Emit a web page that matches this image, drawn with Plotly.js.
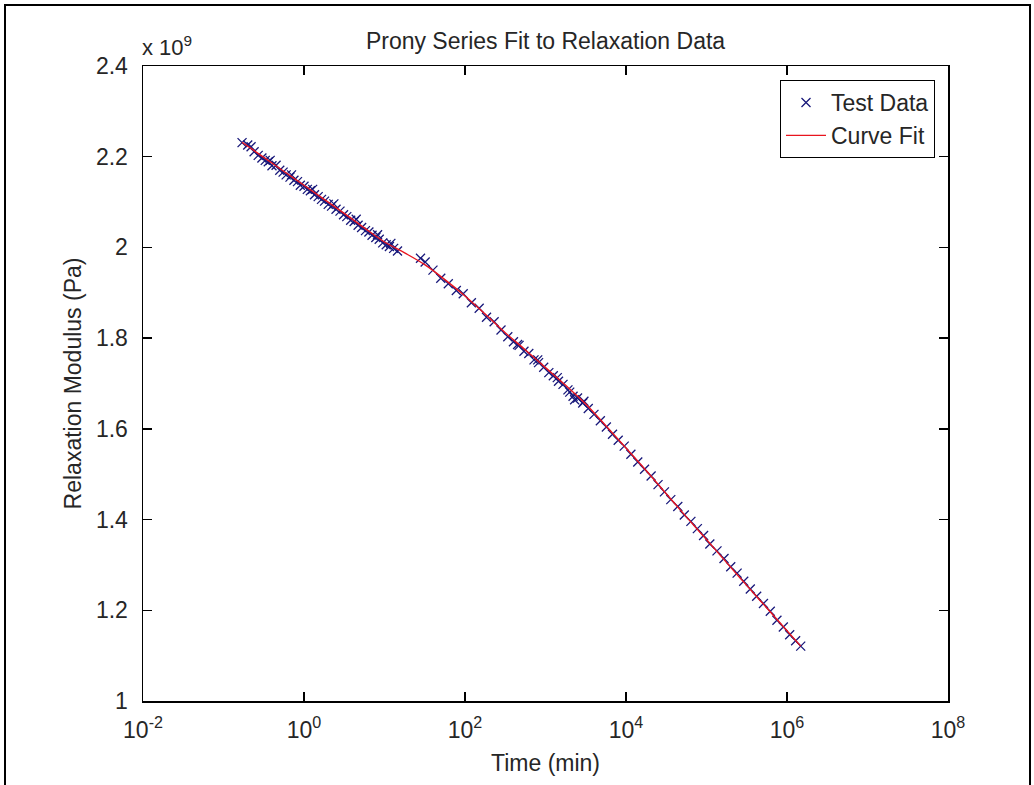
<!DOCTYPE html>
<html>
<head>
<meta charset="utf-8">
<script src="https://cdn.plot.ly/plotly-3.0.1.min.js"></script>
<style>
  html, body { margin: 0; padding: 0; background: #fff; }
  #wrap { position: relative; width: 1034px; height: 785px; overflow: hidden; }
  #chart { width: 1034px; height: 785px; }
  #frame { position: absolute; left: 4px; top: 4px; width: 1023px; height: 800px; border: 2px solid #000; pointer-events: none; }
</style>
</head>
<body>
<div id="wrap"><div id="chart"></div><div id="frame"></div></div>
<script>
// Test data: time (min) and relaxation modulus (x 10^9 Pa)
const testTime = [
  0.17, 0.2, 0.22, 0.24, 0.27, 0.3, 0.33, 0.36, 0.38, 0.4, 0.45, 0.5, 0.55, 0.6, 0.67, 0.7, 0.75, 0.83, 0.9,
  1.0, 1.1, 1.2, 1.28, 1.35, 1.5, 1.65, 1.8, 2.0, 2.2, 2.35, 2.5, 2.8, 3.1, 3.4, 3.8, 4.2, 4.45, 4.7, 5.2,
  5.8, 6.4, 7.0, 7.8, 8.2, 8.6, 9.5, 10.5, 11.5, 12, 13, 14.5,
  28, 32, 40, 50, 62, 78, 95, 120, 150, 185, 230, 280, 340, 400, 450, 470, 540, 620, 720, 800, 820, 950,
  1100, 1250, 1400, 1450, 1650, 1900, 2000, 2200, 2300, 2500, 2900, 3000, 3400, 4000, 4800, 5700, 6800, 8000, 9500,
  11500, 14000, 17000, 20500, 25000, 30000, 36000, 44000, 53000, 64000, 77000, 92000,
  110000, 135000, 165000, 200000, 240000, 290000, 350000, 420000, 510000, 620000, 750000, 900000,
  1080000, 1280000, 1480000
];
const testModulus = [
  2.231, 2.226, 2.222, 2.211, 2.203, 2.197, 2.192, 2.189, 2.192, 2.180, 2.181, 2.170, 2.166, 2.160, 2.155, 2.160, 2.148, 2.145, 2.137,
  2.135, 2.128, 2.125, 2.128, 2.116, 2.112, 2.106, 2.102, 2.095, 2.091, 2.096, 2.084, 2.080, 2.072, 2.068, 2.060, 2.057, 2.062, 2.049, 2.044,
  2.037, 2.034, 2.027, 2.022, 2.028, 2.018, 2.010, 2.006, 2.002, 2.009, 1.998, 1.992,
  1.976, 1.968, 1.950, 1.932, 1.920, 1.905, 1.898, 1.878, 1.866, 1.846, 1.836, 1.818, 1.803, 1.792, 1.786, 1.784, 1.771, 1.766, 1.752, 1.752, 1.746, 1.736,
  1.724, 1.717, 1.713, 1.705, 1.698, 1.686, 1.681, 1.672, 1.664, 1.668, 1.657, 1.661, 1.645, 1.632, 1.618, 1.604, 1.588, 1.575, 1.562,
  1.544, 1.527, 1.511, 1.496, 1.477, 1.461, 1.444, 1.429, 1.410, 1.396, 1.380, 1.365,
  1.346, 1.331, 1.314, 1.296, 1.282, 1.264, 1.247, 1.231, 1.215, 1.198, 1.178, 1.163,
  1.146, 1.133, 1.121
];

// Prony series curve fit
const fitTime = [
  0.17, 0.32, 0.56, 1, 1.78, 3.16, 5.62, 10, 17.8, 31.6, 56.2, 100, 178, 316, 562, 1000, 1780, 3160, 5620,
  10000, 17800, 31600, 56200, 100000, 178000, 316000, 562000, 1000000, 1480000
];
const fitModulus = [
  2.232, 2.198, 2.168, 2.137, 2.106, 2.075, 2.043, 2.012, 1.988, 1.962, 1.929, 1.893, 1.853, 1.812, 1.774, 1.735, 1.696, 1.655, 1.607,
  1.558, 1.508, 1.457, 1.406, 1.356, 1.305, 1.255, 1.205, 1.155, 1.121
];

const xTickVals = [0.01, 1, 100, 10000, 1000000, 100000000];
const xTickText = ['10<sup>-2</sup>', '10<sup>0</sup>', '10<sup>2</sup>', '10<sup>4</sup>', '10<sup>6</sup>', '10<sup>8</sup>'];
const yTickVals = [1, 1.2, 1.4, 1.6, 1.8, 2, 2.2, 2.4];
const yTickText = ['1', '1.2', '1.4', '1.6', '1.8', '2', '2.2', '2.4'];

const FONT = 'Liberation Sans, Arial, sans-serif';
const FS = 23;
const TXT = '#262626';
const W = 1034, H = 785;
const M = { l: 143, r: 86, t: 66, b: 84 };

const traces = [
  {
    x: testTime, y: testModulus, name: 'Test Data', type: 'scatter', mode: 'markers',
    marker: { symbol: 'x-thin-open', size: 9, color: '#18187a', line: { width: 1.3, color: '#18187a' } }
  },
  {
    x: fitTime, y: fitModulus, name: 'Curve Fit', type: 'scatter', mode: 'lines',
    line: { color: '#e8141e', width: 1.4, shape: 'spline' }
  }
];

const axisCommon = {
  showline: true, linecolor: '#000', linewidth: 1.5, mirror: 'ticks',
  ticks: 'inside', ticklen: 9, tickwidth: 1.5, tickcolor: '#000',
  showgrid: false, zeroline: false,
  tickfont: { family: FONT, size: FS, color: TXT }
};

const layout = {
  width: W, height: H,
  margin: M,
  paper_bgcolor: '#fff', plot_bgcolor: '#fff',
  font: { family: FONT, size: FS, color: TXT },
  showlegend: true,
  title: {
    text: 'Prony Series Fit to Relaxation Data',
    font: { family: FONT, size: FS, color: TXT },
    x: 0.5, xref: 'paper', xanchor: 'center',
    y: 1 - 41 / H, yref: 'container', yanchor: 'middle'
  },
  xaxis: Object.assign({}, axisCommon, {
    type: 'log', range: [-2, 8],
    tickmode: 'array', tickvals: xTickVals, ticktext: xTickText,
    ticklabelstandoff: 8,
    title: { text: 'Time (min)', font: { family: FONT, size: FS, color: TXT }, standoff: 13 }
  }),
  yaxis: Object.assign({}, axisCommon, {
    range: [1, 2.4],
    tickmode: 'array', tickvals: yTickVals, ticktext: yTickText,
    ticklabelstandoff: 9,
    title: { text: 'Relaxation Modulus (Pa)', font: { family: FONT, size: FS, color: TXT }, standoff: 8 }
  }),
  legend: {
    x: 1 - 13 / 805, xanchor: 'right', y: 1 - 14 / 635, yanchor: 'top',
    bgcolor: '#fff', bordercolor: '#000', borderwidth: 1,
    font: { family: FONT, size: FS, color: TXT },
    tracegroupgap: 0, itemwidth: 40
  },
  annotations: [
    {
      text: 'x 10<sup>9</sup>', xref: 'paper', yref: 'paper', x: 0, y: 1, xanchor: 'left', yanchor: 'bottom',
      xshift: -3, yshift: 4, showarrow: false, font: { family: FONT, size: FS - 1, color: TXT }
    }
  ]
};

Plotly.newPlot('chart', traces, layout, { displayModeBar: false, staticPlot: true });
</script>
</body>
</html>
